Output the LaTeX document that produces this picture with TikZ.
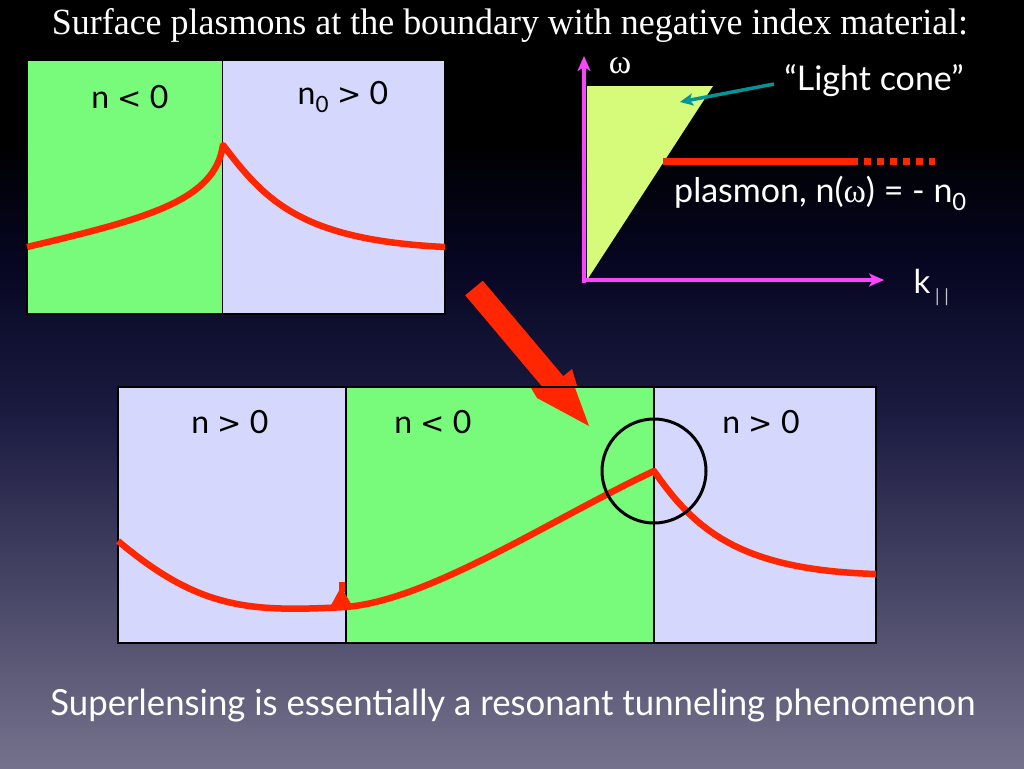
\documentclass[tikz,border=0pt]{standalone}
\usepackage{fontspec}
\setmainfont{Lato}
\newfontfamily\titlefont{Liberation Serif}
\newfontfamily\grk{Liberation Serif}
\newfontfamily\symf{DejaVu Sans}
\usetikzlibrary{arrows.meta}
\definecolor{bgA}{RGB}{0,0,0}
\definecolor{bgB}{RGB}{6,6,34}
\definecolor{bgC}{RGB}{28,28,66}
\definecolor{bgD}{RGB}{70,68,100}
\definecolor{bgE}{RGB}{116,114,140}
\definecolor{negGreen}{RGB}{120,250,122}
\definecolor{posLav}{RGB}{214,215,252}
\definecolor{curveRed}{RGB}{255,38,0}
\definecolor{coneYel}{RGB}{214,250,122}
\definecolor{axisMag}{RGB}{250,70,250}
\definecolor{tealA}{RGB}{0,150,150}
\definecolor{subGray}{RGB}{200,200,210}
\newcommand{\lt}{{\symf\fontsize{29}{29}\selectfont <}}
\newcommand{\gt}{{\symf\fontsize{29}{29}\selectfont >}}
\tikzset{
  negbox/.style={fill=negGreen, draw=black, line width=1.6pt},
  posbox/.style={fill=posLav, draw=black, line width=1.6pt},
  wave/.style={draw=curveRed, line width=6.5pt},
  plabel/.style={font=\fontsize{32}{32}\selectfont, text=black, inner sep=0pt},
  wlabel/.style={font=\fontsize{34}{34}\selectfont, text=white, inner sep=0pt},
  axisline/.style={draw=axisMag, line width=3.5pt, -{Stealth[length=15pt,width=13pt,inset=4pt]}}
}
\begin{document}
\begin{tikzpicture}[x=1pt,y=-1pt]
\useasboundingbox (0,0) rectangle (1024,768);
% background
\shade[top color=bgA, bottom color=bgA] (0,0) rectangle (1024,140.5);
\shade[top color=bgA, bottom color=bgB] (0,140) rectangle (1024,260.5);
\shade[top color=bgB, bottom color=bgC] (0,260) rectangle (1024,420.5);
\shade[top color=bgC, bottom color=bgD] (0,420) rectangle (1024,580.5);
\shade[top color=bgD, bottom color=bgE] (0,580) rectangle (1024,768);

% title
\node[anchor=base, text=white, inner sep=0pt] (title) at (510,35)
  {\resizebox{916pt}{26pt}{\titlefont Surface plasmons at the boundary with negative index material:}};

% ---------- top-left panel
\path[negbox] (27,60) rectangle (222.5,314);
\path[posbox] (222.5,60) rectangle (445,314);
\node[plabel] (tl1) at (130,97) {n \lt{} 0};
\node[plabel] (tl2) at (343,97) {n\textsubscript{0} \gt{} 0};
\coordinate (tlpeak) at (223,145);
\draw[wave, line join=round] (27,247) .. controls (150,218) and (215,200) .. (tlpeak)
   .. controls (265,200) and (300,240) .. (445,247);

% ---------- dispersion graph
\fill[coneYel] (587,280) -- (587,86) -- (713,86) -- cycle;
\draw[axisline] (584,283) -- (584,56);
\draw[axisline] (582,280) -- (884,280);
\node[text=white, inner sep=0pt, font=\fontsize{34}{34}\selectfont\grk] (om) at (620,66) {ω};
\node[text=white, inner sep=0pt, font=\fontsize{33}{33}\selectfont] (kpar) at (922,281) {k};
\node[text=subGray, inner sep=0pt, font=\fontsize{18}{18}\selectfont, anchor=west] (ksub) at (935,297) {| |};
\draw[curveRed, line width=7pt] (663,161) -- (851,161);
\draw[curveRed, line width=7pt, dash pattern=on 7pt off 6pt] (851,161) -- (935,161);
\node[wlabel] (lc) at (874,81) {“Light cone”};
\coordinate (lctip) at (680,102);
\draw[tealA, line width=3.5pt, -{Stealth[length=13pt,width=12pt,inset=3pt]}] (774,84) -- (lctip);
\node[wlabel, anchor=base west] (pl) at (674,202) {plasmon, n(\grk ω\rmfamily) = - n\textsubscript{0}};

% ---------- big arrow
\fill[curveRed] (465.2,295.3) -- (482.8,280.7) -- (563.3,376.2) -- (572,369) -- (589,426)
   -- (537,398) -- (545.7,390.8) -- cycle;

% ---------- bottom panel
\path[posbox] (118,387) rectangle (346,643);
\path[negbox] (346,387) rectangle (654,643);
\path[posbox] (654,387) rectangle (876,643);
\fill[curveRed] (531,387.9) -- (575,387.9) -- (589,426) -- (537,398) -- cycle;
\node[plabel] (b1) at (230,422) {n \gt{} 0};
\node[plabel] (b2) at (433,422) {n \lt{} 0};
\node[plabel] (b3) at (761,422) {n \gt{} 0};
\coordinate (bpeak) at (654,471);
\draw[wave, line join=round] (118,541) .. controls (200,610) and (250,612) .. (346,607)
  .. controls (430,600) and (550,520) .. (bpeak)
  .. controls (695,530) and (740,570) .. (876,574);
\fill[curveRed] (330,607) -- (341,587) -- (353,607) -- cycle;
\fill[curveRed] (338.5,582) rectangle (345,592);
\draw[black, line width=3pt] (bpeak) circle[radius=52];

% bottom text
\node[anchor=base, text=white, inner sep=0pt] (concl) at (513,715)
  {\resizebox{925pt}{26.5pt}{Superlensing is essentially a resonant tunneling phenomenon}};
\end{tikzpicture}
\end{document}
